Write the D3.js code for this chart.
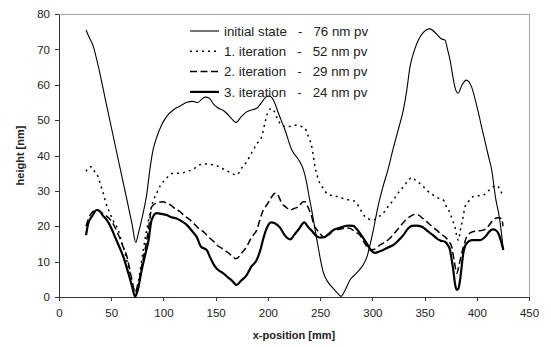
<!DOCTYPE html>
<html><head><meta charset="utf-8">
<script src="https://cdn.jsdelivr.net/npm/d3@7"></script>
<style>body{margin:0;background:#fff}svg{display:block;font-family:"Liberation Sans",Arial,sans-serif}</style>
</head><body><svg id="c" width="551" height="347"></svg>
<script>
const xTicks = [0,50,100,150,200,250,300,350,400,450];
const yTicks = [0,10,20,30,40,50,60,70,80];
const seriesNames = ["initial state   -   76 nm pv","1. iteration   -   52 nm pv","2. iteration   -   29 nm pv","3. iteration   -   24 nm pv"];

const initialX = [25.9,28,32.9,37.7,45,55,65,70,73.5,76,80,84,87,90,94,98,103,110,116,122,128,133,137,140,144,148,152,157,161,165,169.5,174,180,186,190,194,198,201,204,207,210,216.4,222.8,230,234,237,240,242,247,253,258,263,267,270,274,279,284,288,292,295,298,301,305,310,315,320,325,329.7,333,336,340,344,348,355,361,366,369.6,372,374.4,377,379,382,386,390,395,400,406,411,414.3,418,422,425.4];
const initialV = [75.5,74,70.8,65.1,55,41.2,27.5,20.5,15.4,18,23,29,36,41.5,45.5,48.5,51,53,54,55,55.3,55,56,56.5,56.2,54.5,53.5,52.8,51.8,50.5,49.3,50.8,52.4,53,53.5,55,56.5,56.8,56.3,54.5,52,47.2,41.6,38.5,36,32.5,27.5,24.5,16,7,4,2.3,1,0.2,2,5,6.5,7.8,9.5,11.5,15,19,25,31,36,42,47.5,52.9,58.5,65,69.5,72.6,74.5,75.8,74.5,73,72.6,70,67,62.5,59.4,57.6,60,61.3,59.4,54,46.3,40,35.9,28,21.8,13.3];

const iter1X = [25.9,28,31.3,34,37.7,40,42.4,45,48.8,52,56.8,60,63.2,66,69.6,72.8,76,80.7,84,87.1,90,93.5,97,101.5,105,109.4,113,117.4,122,127,132,136,139.8,144,149.4,155,160.5,165,170.1,175,179.7,183,186,190,194.1,197,200.4,203.6,206,209,211.6,215,218,222,227.6,232,235.5,238,240,242,243.5,245.1,247,249.9,253,256.3,261,265.9,270,274,278.6,282,285,289,293,297,300.9,305,310.5,315,320.1,325,329.7,334,337.7,342,347.2,352,358.4,363,368,371,374.4,377,379.1,381,382.5,384,386.5,388.7,392,396.7,401,406.3,411,415.8,419,421,423.9];
const iter1V = [35.5,36.5,36.8,35.5,33.8,31.5,29.3,26.5,23.7,21.5,18.9,15.5,12.4,9,4.8,1,4.5,13.3,19,23.7,27,29.3,31.5,33.1,34.2,35,35,35,35.5,35.9,36.8,37.5,37.6,37.5,37.3,36.5,35.7,35,34.5,36.5,38.2,40,41.6,43.5,45.3,49,52.5,53.3,52.5,50.5,49.1,48.3,48.1,48.3,48.6,48.2,47.7,46,44.5,42.5,40,36.8,34.5,32.1,30.7,29.3,28.7,28.4,28,27.7,27.4,27.2,26.5,24.5,22.7,22,21.8,22.5,23.7,25.5,27.4,29.5,31.2,32.8,33.8,32.8,31.7,30.2,28.8,28,27.4,25.5,23.7,21.5,19.9,17,16,18.5,22,25.5,27,28.4,28.6,28.8,30,31.2,31.5,31,29.3];

const iter2X = [25.9,28,32,36,40,45,48.8,53,57,61,65,69,72.8,76,80,84,87,88.7,93,99.9,103,106.3,111,115.9,120,125.4,130,135,138.2,143,147.7,152,157.3,162,166,168.5,170.1,175,179.7,182.9,186,189.3,192,195.6,198.9,203,206.8,208.4,211,213.2,217,221.2,225,229.1,233.9,235.5,239,242,243.5,247,249.9,253,256.3,260,262.6,266,270,274,278.6,283,288,292,297.8,302,307.4,312,316.9,321,326.5,331,336,340,344,348,352,357,361.6,365,369.6,373,376,378.5,380.8,383,385.6,388,390.3,396.7,402,406.3,411,415.8,420,423.9,425];
const iter2V = [20,22,24,24.6,24,23,22,20,17.5,14.5,11.5,6,1.5,4,10,16,22,25.5,26.5,26.9,26.5,26.1,25,24.1,23,21.8,20.5,19,18.5,17,15.8,14.5,13.5,12.5,11.5,10.9,10.9,12.5,14.2,16.1,17.5,18.9,21.5,24.6,26,28,29.3,29.3,28,26.5,25.5,24.6,25,25.5,26.9,26.9,25,22.7,20.8,19,18,17,17,18,18.9,19,19.2,19.5,19.4,18.5,17.5,15.5,13.3,13.5,14.7,15.5,16.6,18,19.9,21.5,22.7,23.3,23.2,22.3,21.3,20,18.9,18,17,15.8,14.2,10,6.7,9,12.4,15,17,18.5,18.7,18.9,20,21.8,22.4,22.2,20];

const iter3X = [25.9,28,32,36,39,42,45.7,50,53.6,58,61.6,66.4,70,72.8,75,79.2,83,85.5,88.7,93.5,98,103,108,112.6,117,122.3,127,131.8,136,141.4,145,149.4,153,157.3,162,166,170.1,174,179.7,184,189.3,193,195.6,199,203,207,211.6,216,221.5,225,229.1,235,238,242,246.7,250,254.7,258,262.6,268,272.2,277,281.8,285,288.2,291,294.6,298,302.6,306,310.5,315,320.1,325,329.7,334,337.7,342,347.2,353.6,358,361.6,365,369.6,372,374.4,376,377.5,379,380.8,382.5,384,385.5,387.1,390.3,395.1,403,409.5,412,415.8,418,420.6,423,425.4];
const iter3V = [17.5,20.8,23,24.6,24.3,23,21.8,19.5,17,14,11.4,6.7,3,0.1,1.5,7.6,12.5,15.6,21.8,23.7,23.5,23.2,22.5,22.2,21.5,20.4,18.8,17,14.2,13.3,11,8.6,7.5,6.7,5.5,4.5,3.4,4.5,6.2,8.5,10.5,13.5,16.5,19.5,21.1,20.8,19.6,17.5,16.3,17.5,19,21.1,20,18.7,17.2,16.8,17,17.8,18.9,19.5,19.9,20.2,20.1,19.2,18,16.8,15.2,13.5,12.5,12.8,13.3,14,14.7,16,17.5,19.3,20.1,20.2,19.9,18.5,17.5,16.6,16,15.6,14.8,13.3,10.5,7.6,4,2,2.5,4.8,8.5,12.4,15.2,16.1,16.1,17.5,18.5,19.1,18.9,18,16,13.3];

const svg = d3.select("#c");
const m = {l:59, r:22, t:14, b:50};
const W = 551, H = 347;
const x = d3.scaleLinear().domain([0,450]).range([m.l, W-m.r]);
const y = d3.scaleLinear().domain([0,80]).range([H-m.b, m.t]);

svg.append("rect").attr("x",x(0)).attr("y",y(80)).attr("width",x(450)-x(0)).attr("height",y(0)-y(80))
  .attr("fill","none").attr("stroke","#a6a6a6").attr("stroke-width",1).attr("shape-rendering","crispEdges");

const xa = svg.append("g").attr("transform",`translate(0,${y(0)})`)
  .call(d3.axisBottom(x).tickValues(xTicks).tickSize(4).tickSizeOuter(0).tickPadding(8));
const ya = svg.append("g").attr("transform",`translate(${x(0)},0)`)
  .call(d3.axisLeft(y).tickValues(yTicks).tickSize(4).tickSizeOuter(0).tickPadding(5));
[xa,ya].forEach(a=>{
  a.selectAll("path,line").attr("stroke","#333").attr("shape-rendering","crispEdges");
  a.selectAll("text").attr("font-size",11.5).attr("fill","#222").attr("font-family","Liberation Sans, Arial, sans-serif");
});

svg.append("text").attr("x",(x(0)+x(450))/2).attr("y",339).attr("text-anchor","middle")
  .attr("font-size",11).attr("font-weight","bold").attr("fill","#222").text("x-position [mm]");
svg.append("text").attr("transform",`translate(24,${(y(0)+y(80))/2}) rotate(-90)`).attr("text-anchor","middle")
  .attr("font-size",11).attr("font-weight","bold").attr("fill","#222").text("height [nm]");

const styles = [
  {w:1.1, dash:null},
  {w:1.5, dash:"2,4"},
  {w:1.5, dash:"7,3.5"},
  {w:2.2, dash:null}
];
const data = [[initialX,initialV],[iter1X,iter1V],[iter2X,iter2V],[iter3X,iter3V]];
const line = d3.line().x(d=>x(d[0])).y(d=>y(d[1])).curve(d3.curveMonotoneX);
data.forEach(([xs,vs],i)=>{
  const pts = xs.map((v,k)=>[v,vs[k]]);
  svg.append("path").datum(pts).attr("d",line).attr("fill","none").attr("stroke","#000")
    .attr("stroke-width",styles[i].w).attr("stroke-dasharray",styles[i].dash).attr("stroke-linejoin","round");
});

const lg = svg.append("g");
seriesNames.forEach((n,i)=>{
  const yy = 31 + i*20.3;
  lg.append("line").attr("x1",190).attr("x2",219).attr("y1",yy).attr("y2",yy).attr("stroke","#000")
    .attr("stroke-width",styles[i].w).attr("stroke-dasharray",styles[i].dash);
  lg.append("text").attr("x",224).attr("y",yy+4.8).attr("font-size",13.3).attr("fill","#222")
    .attr("xml:space","preserve").style("white-space","pre").text(n);
});
</script></body></html>
